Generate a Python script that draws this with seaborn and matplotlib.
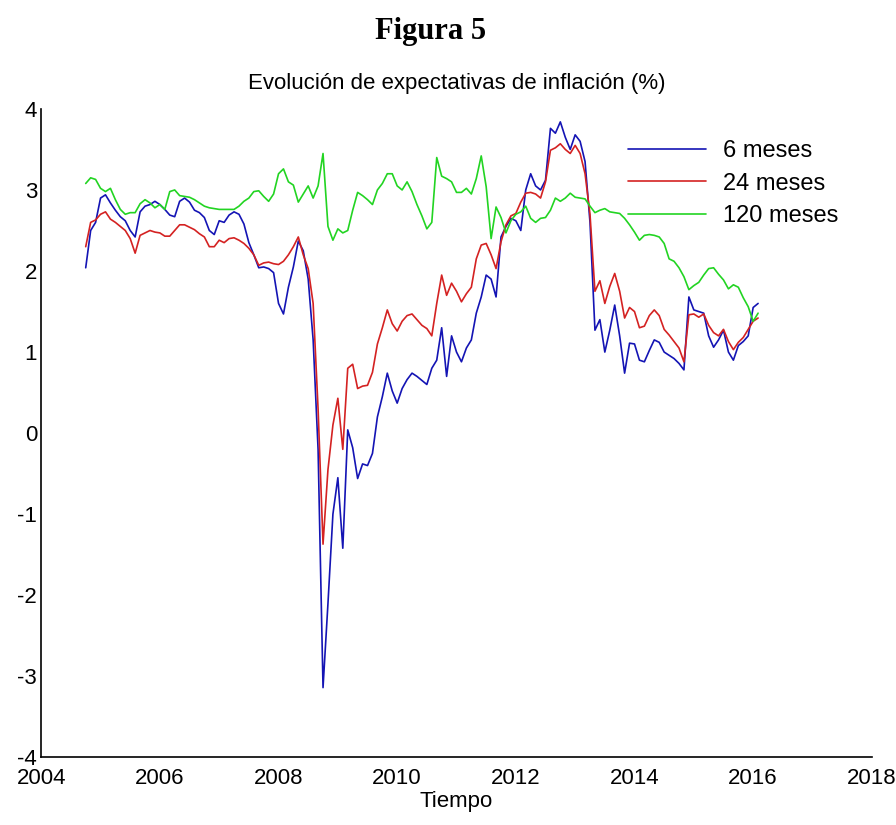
import numpy as np
import pandas as pd
import matplotlib
matplotlib.use("Agg")
from matplotlib import pyplot as plt
import seaborn as sns

# monthly series, Oct 2004 - Feb 2016
exp_6m = [
    2.04, 2.50, 2.60, 2.90, 2.94, 2.84, 2.75, 2.67, 2.62, 2.50,
    2.42, 2.73, 2.80, 2.82, 2.86, 2.82, 2.76, 2.69, 2.67, 2.86,
    2.90, 2.85, 2.75, 2.72, 2.66, 2.50, 2.45, 2.62, 2.60, 2.69,
    2.73, 2.70, 2.58, 2.35, 2.20, 2.04, 2.05, 2.03, 1.98, 1.60,
    1.47, 1.80, 2.05, 2.37, 2.25, 1.90, 1.15, -0.20, -3.14, -2.10,
    -1.00, -0.55, -1.42, 0.04, -0.18, -0.56, -0.38, -0.40, -0.25, 0.20,
    0.45, 0.74, 0.52, 0.37, 0.55, 0.66, 0.74, 0.70, 0.65, 0.60,
    0.80, 0.90, 1.30, 0.70, 1.20, 1.00, 0.88, 1.05, 1.15, 1.48,
    1.68, 1.95, 1.90, 1.68, 2.42, 2.55, 2.65, 2.62, 2.50, 3.00,
    3.20, 3.05, 3.00, 3.12, 3.76, 3.70, 3.84, 3.65, 3.50, 3.68,
    3.60, 3.35, 2.60, 1.27, 1.40, 1.00, 1.27, 1.58, 1.20, 0.74,
    1.11, 1.10, 0.90, 0.88, 1.02, 1.15, 1.12, 1.00, 0.96, 0.92,
    0.86, 0.78, 1.68, 1.52, 1.50, 1.48, 1.20, 1.06, 1.15, 1.27,
    1.00, 0.90, 1.08, 1.13, 1.20, 1.55, 1.60,
]
exp_24m = [
    2.30, 2.60, 2.63, 2.70, 2.73, 2.64, 2.60, 2.55, 2.50, 2.40,
    2.22, 2.44, 2.47, 2.50, 2.48, 2.47, 2.43, 2.43, 2.50, 2.57,
    2.57, 2.54, 2.51, 2.46, 2.42, 2.30, 2.30, 2.38, 2.35, 2.40,
    2.41, 2.38, 2.34, 2.28, 2.20, 2.07, 2.10, 2.11, 2.09, 2.08,
    2.12, 2.20, 2.30, 2.42, 2.20, 2.03, 1.60, 0.30, -1.37, -0.45,
    0.10, 0.43, -0.20, 0.80, 0.85, 0.55, 0.58, 0.59, 0.75, 1.10,
    1.30, 1.52, 1.35, 1.26, 1.38, 1.45, 1.47, 1.40, 1.33, 1.29,
    1.20, 1.60, 1.95, 1.70, 1.85, 1.75, 1.62, 1.72, 1.80, 2.15,
    2.32, 2.34, 2.20, 2.03, 2.36, 2.57, 2.68, 2.71, 2.85, 2.96,
    2.97, 2.95, 2.90, 3.10, 3.49, 3.52, 3.57, 3.50, 3.45, 3.55,
    3.45, 3.20, 2.70, 1.75, 1.88, 1.60, 1.81, 1.97, 1.75, 1.42,
    1.55, 1.50, 1.30, 1.32, 1.45, 1.52, 1.45, 1.28, 1.21, 1.13,
    1.05, 0.88, 1.46, 1.47, 1.43, 1.47, 1.33, 1.24, 1.20, 1.28,
    1.13, 1.03, 1.12, 1.18, 1.28, 1.38, 1.42,
]
exp_120m = [
    3.08, 3.15, 3.13, 3.02, 2.98, 3.02, 2.88, 2.76, 2.70, 2.72,
    2.72, 2.83, 2.88, 2.84, 2.78, 2.82, 2.76, 2.98, 3.00, 2.93,
    2.92, 2.91, 2.88, 2.84, 2.80, 2.78, 2.77, 2.76, 2.76, 2.76,
    2.76, 2.80, 2.86, 2.90, 2.98, 2.99, 2.92, 2.86, 2.95, 3.20,
    3.26, 3.10, 3.06, 2.85, 2.95, 3.05, 2.90, 3.05, 3.45, 2.55,
    2.38, 2.52, 2.47, 2.50, 2.75, 2.97, 2.93, 2.88, 2.82, 3.00,
    3.08, 3.20, 3.20, 3.05, 3.00, 3.10, 2.98, 2.82, 2.68, 2.52,
    2.60, 3.40, 3.17, 3.14, 3.10, 2.97, 2.97, 3.02, 2.95, 3.14,
    3.42, 3.04, 2.40, 2.79, 2.66, 2.47, 2.62, 2.70, 2.73, 2.80,
    2.65, 2.60, 2.65, 2.66, 2.75, 2.90, 2.86, 2.90, 2.96, 2.91,
    2.90, 2.89, 2.80, 2.72, 2.75, 2.77, 2.73, 2.72, 2.71, 2.65,
    2.57, 2.48, 2.38, 2.44, 2.45, 2.44, 2.42, 2.34, 2.15, 2.12,
    2.04, 1.93, 1.77, 1.82, 1.86, 1.95, 2.03, 2.04, 1.96, 1.89,
    1.78, 1.83, 1.80, 1.67, 1.56, 1.38, 1.48,
]
series_names = ["6 meses", "24 meses", "120 meses"]
series_colors = ["#1414b4", "#d42222", "#22d422"]

fechas = pd.date_range("2004-10-01", periods=len(exp_6m), freq="MS")
tiempo = fechas.year + (fechas.month - 1) / 12

df = pd.concat([
    pd.DataFrame({"Tiempo": tiempo, "valor": vals, "serie": name})
    for name, vals in zip(series_names, [exp_6m, exp_24m, exp_120m])
])

sns.set_style("white")
plt.rcParams["font.family"] = ["Liberation Sans Narrow", "Liberation Sans", "DejaVu Sans"]
plt.rcParams["axes.unicode_minus"] = False
plt.rcParams["text.color"] = "black"
plt.rcParams["axes.labelcolor"] = "black"
plt.rcParams["xtick.color"] = "black"
plt.rcParams["ytick.color"] = "black"

fig = plt.figure(figsize=(8.96, 8.25), dpi=100)
ax = fig.add_axes([0.046, 0.082, 0.927, 0.786])

sns.lineplot(data=df, x="Tiempo", y="valor", hue="serie", hue_order=series_names,
             palette=series_colors, linewidth=1.2, ax=ax)

ax.set_xlim(2004, 2018)
ax.set_ylim(-4, 4)
ax.set_xticks(range(2004, 2019, 2))
ax.set_yticks(range(-4, 5))
ax.tick_params(direction="in", length=7, width=1, labelsize=16, pad=3)
ax.tick_params(axis="x", pad=8)
for side in ["top", "right"]:
    ax.spines[side].set_visible(False)
for side in ["left", "bottom"]:
    ax.spines[side].set_linewidth(1.2)
    ax.spines[side].set_color("black")

ax.set_xlabel("Tiempo", fontsize=16, labelpad=1)
ax.set_ylabel("")
ax.set_title("Evolución de expectativas de inflación (%)", fontsize=16, pad=14)

ax.legend(loc="upper right", bbox_to_anchor=(0.985, 0.985), frameon=False,
          fontsize=17, handlelength=3.3, handletextpad=0.7, labelspacing=0.45)

fig.text(0.48, 0.962, "Figura 5", ha="center", va="center", fontsize=22,
         fontweight="bold", family=["Liberation Serif", "DejaVu Serif"])

plt.savefig("out.png", dpi=100)
